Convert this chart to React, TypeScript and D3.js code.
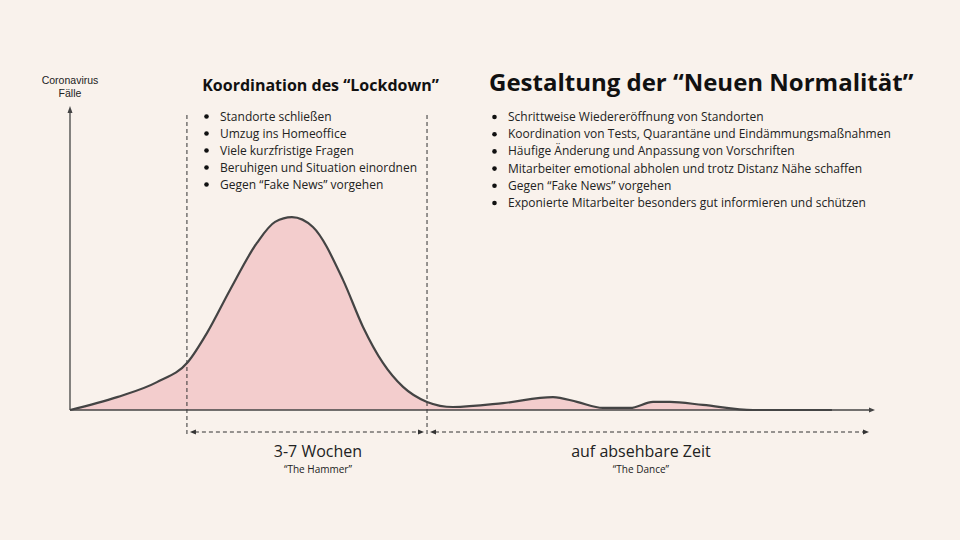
import React from "react";
import * as d3 from "d3";

// Curve: time (arbitrary units) vs. cases (arbitrary units)
const curveT = [0, 2.34, 4.32, 5.86, 6.81, 7.95, 9.29, 10.19, 11.03, 12.07, 13.57, 14.56, 15.55, 16.55, 17.74, 19.03, 21.52, 24, 25.19, 26.48, 27.83, 28.97, 29.81, 31.45, 33.94, 37.86];
const curveCases = [0, 4.3, 9.3, 16, 25.7, 40, 55.7, 62.7, 64.3, 61, 43.3, 27.7, 15.7, 7.7, 2.7, 1, 2.3, 4.3, 2.7, 0.7, 0.7, 2.7, 2.7, 1.7, 0, 0];

const phaseBounds = [5.81, 17.74, 39.85];
const phaseLabelT = [12.32, 28.37];
const phaseLabels = ["3-7 Wochen", "auf absehbare Zeit"];
const phaseSubLabels = ["“The Hammer”", "“The Dance”"];

const lockdownTitle = "Koordination des “Lockdown”";
const lockdownItems = [
  "Standorte schließen",
  "Umzug ins Homeoffice",
  "Viele kurzfristige Fragen",
  "Beruhigen und Situation einordnen",
  "Gegen “Fake News” vorgehen",
];
const normalTitle = "Gestaltung der “Neuen Normalität”";
const normalItems = [
  "Schrittweise Wiedereröffnung von Standorten",
  "Koordination von Tests, Quarantäne und Eindämmungsmaßnahmen",
  "Häufige Änderung und Anpassung von Vorschriften",
  "Mitarbeiter emotional abholen und trotz Distanz Nähe schaffen",
  "Gegen “Fake News” vorgehen",
  "Exponierte Mitarbeiter besonders gut informieren und schützen",
];
const yAxisLabel = ["Coronavirus", "Fälle"];

export default function App() {
  const W = 960, H = 540;
  const x = d3.scaleLinear().domain([0, 40]).range([70, 875]);
  const y = d3.scaleLinear().domain([0, 100]).range([410, 110]);
  const pts = curveT.map((t, i) => [t, curveCases[i]] as [number, number]);
  const line = d3.line<[number, number]>().x(d => x(d[0])).y(d => y(d[1])).curve(d3.curveMonotoneX);
  const area = d3.area<[number, number]>().x(d => x(d[0])).y0(y(0)).y1(d => y(d[1])).curve(d3.curveMonotoneX);
  const font = "'Open Sans', sans-serif";
  const ink = "#444";
  const bracketY = 432;
  const x0 = x(0), yBase = y(0);
  const arrowR = (px: number, py: number, s = 6) => `M${px},${py} L${px - s},${py - 2.5} L${px - s},${py + 2.5} Z`;
  const arrowL = (px: number, py: number, s = 6) => `M${px},${py} L${px + s},${py - 2.5} L${px + s},${py + 2.5} Z`;
  return (
    <svg width={W} height={H} style={{ position: "absolute", left: 0, top: 0 }} fontFamily={font}>
      <rect width={W} height={H} fill="#f9f2ec" />
      <path d={area(pts) || ""} fill="#f3cdcd" />
      {/* vertical dashed lines */}
      {phaseBounds.slice(0, 2).map((b, i) => (
        <line key={i} x1={x(b)} x2={x(b)} y1={115} y2={437} stroke="#333" strokeWidth={1} strokeDasharray="4,3" />
      ))}
      <path d={line(pts) || ""} fill="none" stroke={ink} strokeWidth={2.2} />
      {/* axes */}
      <line x1={x0} x2={x0} y1={yBase} y2={112} stroke={ink} strokeWidth={1.3} />
      <path d={`M${x0},106 L${x0 - 2.5},113 L${x0 + 2.5},113 Z`} fill={ink} />
      <line x1={x0} x2={x(40) - 5} y1={yBase} y2={yBase} stroke={ink} strokeWidth={1.3} />
      <path d={arrowR(x(40), yBase)} fill={ink} />
      <text x={x0} y={84} fontFamily="'Liberation Sans', Arial, sans-serif" fontSize={10.5} textAnchor="middle" fill="#222">{yAxisLabel[0]}</text>
      <text x={x0} y={97} fontFamily="'Liberation Sans', Arial, sans-serif" fontSize={10.5} textAnchor="middle" fill="#222">{yAxisLabel[1]}</text>
      {/* brackets */}
      {phaseLabels.map((lab, i) => {
        const a = x(phaseBounds[i]) + 3, b = x(phaseBounds[i + 1]) - 3;
        const mid = x(phaseLabelT[i]);
        return (
          <g key={i}>
            <line x1={a + 5} x2={b - 5} y1={bracketY} y2={bracketY} stroke="#333" strokeWidth={1} strokeDasharray="4,3" />
            <path d={arrowL(a, bracketY)} fill="#333" />
            <path d={arrowR(b, bracketY)} fill="#333" />
            <text x={mid} y={457} textAnchor="middle" fontSize={16} fill="#222">{lab}</text>
            <text x={mid} y={472.5} textAnchor="middle" fontSize={10} fill="#222">{phaseSubLabels[i]}</text>
          </g>
        );
      })}
      {/* lockdown text */}
      <text x={320.5} y={91} textAnchor="middle" fontSize={16} fontWeight={700} fill="#111">{lockdownTitle}</text>
      {lockdownItems.map((t, i) => (
        <g key={i}>
          <circle cx={206.5} cy={116.5 + i * 17} r={2.3} fill="#111" />
          <text x={220} y={120.5 + i * 17} fontSize={12} fill="#222">{t}</text>
        </g>
      ))}
      <text x={489} y={91} fontSize={24} fontWeight={700} fill="#111">{normalTitle}</text>
      {normalItems.map((t, i) => (
        <g key={i}>
          <circle cx={494.5} cy={117 + i * 17.2} r={2.3} fill="#111" />
          <text x={508} y={121 + i * 17.2} fontSize={12} fill="#222">{t}</text>
        </g>
      ))}
    </svg>
  );
}
